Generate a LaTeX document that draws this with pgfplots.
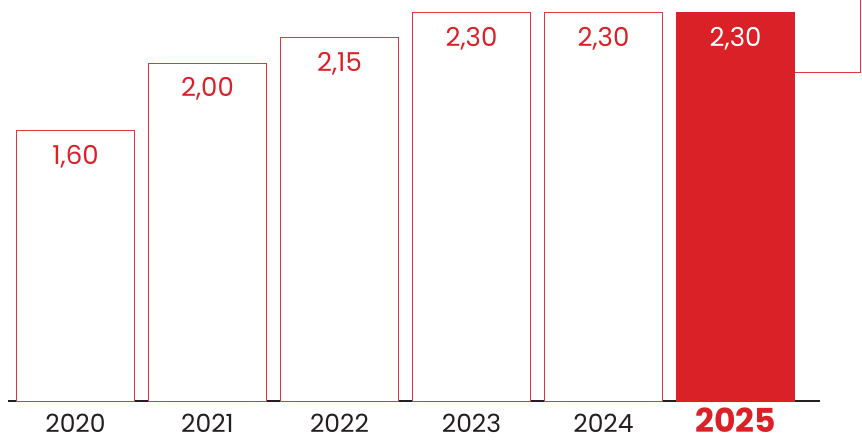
\documentclass[border=0pt]{standalone}
\usepackage{pgfplots}
\pgfplotsset{compat=1.18}
\usepackage{fontspec}
\setmainfont{Poppins}
\definecolor{bred}{HTML}{DA2128}
\definecolor{ored}{HTML}{E2363D}
\definecolor{tgray}{HTML}{231F20}
\begin{document}
\begin{tikzpicture}
\path[use as bounding box] (0,0) rectangle (862pt,441pt);
\begin{axis}[
  at={(8pt,40pt)}, anchor=south west,
  scale only axis, width=812pt, height=401pt,
  xmin=-0.511, xmax=5.640, ymin=0, ymax=2.373,
  clip=false,
  /pgf/number format/assume math mode=true,
  axis y line=none,
  axis x line*=bottom,
  x axis line style={draw=tgray, line width=1.8pt, -},
  xtick={0,1,2,3,4,5},
  xticklabels={2020,2021,2022,2023,2024,{\fontsize{33}{34}\selectfont\bfseries\color{bred}2025\rule[-6pt]{0pt}{6pt}}},
  x tick label style={font=\fontsize{25}{27}\selectfont, text=tgray, anchor=center, inner sep=0pt, yshift=-22.5pt},
  major tick length=0pt,
  ytick=\empty,
  ybar, bar width=118pt, bar shift=0pt,
  nodes near coords={\pgfmathprintnumber[fixed,fixed zerofill,precision=2,use comma,assume math mode=true]{\pgfplotspointmeta}},
  every node near coord/.append style={font=\fontsize{26}{28}\selectfont, anchor=center, yshift=-26pt},
]
\addplot[draw=ored, fill=white, line width=0.9pt, nodes near coords style={text=bred}] coordinates {(0,1.60) (1,2.00) (2,2.15) (3,2.30) (4,2.30)};
\addplot[draw=bred, fill=bred, line width=0.5pt, every node near coord/.append style={text=white}] coordinates {(5,2.30)};
\addplot[ored, line width=0.9pt, mark=none, sharp plot, forget plot, nodes near coords=] coordinates {(5.449,1.945) (5.950,1.945) (5.950,2.40)};
\end{axis}
\end{tikzpicture}
\end{document}
